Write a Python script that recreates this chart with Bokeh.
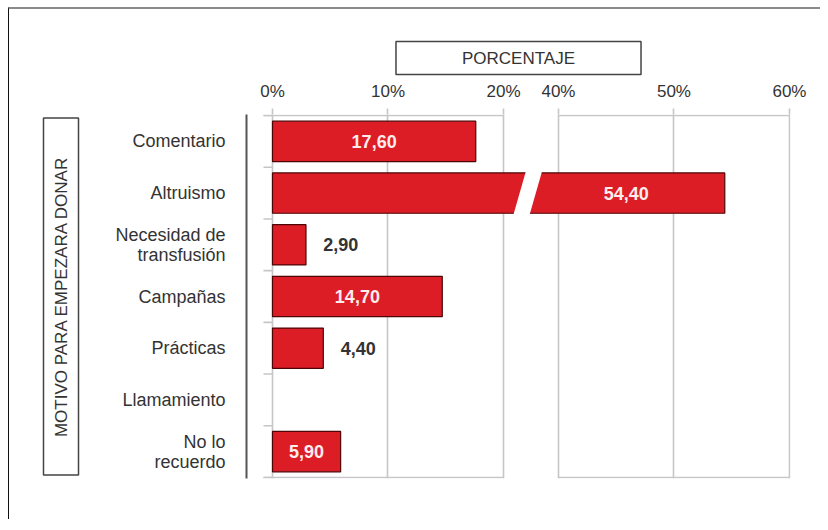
import math
from bokeh.plotting import figure
from bokeh.models import Range1d, FixedTicker, LinearAxis, Title, Grid, ColumnDataSource
from bokeh.core.properties import value
from bokeh.embed import file_html
from bokeh.resources import INLINE

# ---------------- data ----------------
categories = ["Comentario", "Altruismo", "Necesidad de\ntransfusión", "Campañas",
              "Prácticas", "Llamamiento", "No lo\nrecuerdo"]
values = [17.60, 54.40, 2.90, 14.70, 4.40, 0.0, 5.90]
value_labels = ["17,60", "54,40", "2,90", "14,70", "4,40", "", "5,90"]
tick_values = [0, 10, 20, 40, 50, 60]
tick_labels = ["0%", "10%", "20%", "40%", "50%", "60%"]
x_title = "PORCENTAJE"
y_title = "MOTIVO PARA EMPEZARA DONAR"

# ---------------- broken axis mapping ----------------
BREAK_LOW, BREAK_HIGH, GAP = 20, 40, 4.76
AXIS_MAX = 60


def disp(v):
    v = float(v)
    d = v if v <= BREAK_LOW else BREAK_LOW + GAP + (v - BREAK_HIGH)
    return round(d, 4)


FONT = "Liberation Sans"
BAR_FILL = "#dd1d26"
BAR_LINE = "#4d0505"
GRID = "#c6c6c6"

n = len(categories)
p = figure(width=812, height=512, output_backend="svg", toolbar_location=None,
           x_range=Range1d(-2.25, disp(AXIS_MAX) + 0.09),
           y_range=Range1d(n - 0.48, -0.52),
           x_axis_location=None, y_axis_location="left",
           min_border_left=237, min_border_right=31, min_border_top=105,
           min_border_bottom=43)
p.margin = (7, 0, 0, 8)
p.outline_line_color = None
p.background_fill_color = "white"
p.border_fill_color = "white"
p.styles = {"border-top": "2px solid #8a8a8a", "border-left": "1px solid #111"}
for g in p.grid:
    g.visible = False

ticks_d = [disp(t) for t in tick_values]

# vertical gridlines
grid = Grid(dimension=0, ticker=FixedTicker(ticks=ticks_d),
            grid_line_color=GRID, grid_line_width=1.6)
p.add_layout(grid)

# top axis
ax = LinearAxis(ticker=FixedTicker(ticks=ticks_d),
                major_label_overrides={d: lab for d, lab in zip(ticks_d, tick_labels)})
ax.axis_line_color = None
ax.major_tick_line_color = GRID
ax.major_tick_line_width = 1.6
ax.major_tick_out = 6
ax.major_tick_in = 0
ax.minor_tick_line_color = None
ax.major_label_text_font = FONT
ax.major_label_text_font_size = "17px"
ax.major_label_text_color = "#333333"
ax.major_label_standoff = 8
p.add_layout(ax, "above")

# left (category) axis
ya = p.yaxis[0]
ya.ticker = FixedTicker(ticks=list(range(n)))
ya.major_label_overrides = {i: c for i, c in enumerate(categories)}
ya.axis_line_color = "#555555"
ya.axis_line_width = 2
ya.major_tick_line_color = None
ya.minor_tick_line_color = None
ya.major_tick_out = 0
ya.major_label_standoff = 21
ya.major_label_text_font = FONT
ya.major_label_text_font_size = "18px"
ya.major_label_text_line_height = 1.0
ya.major_label_text_color = "#333333"

# frame lines (top / bottom) for both axis segments
TICK_LEFT = -0.78
top_y, bot_y = -0.5, n - 0.5
seg_x0 = [TICK_LEFT, disp(BREAK_HIGH), TICK_LEFT, disp(BREAK_HIGH)]
seg_x1 = [disp(BREAK_LOW), disp(AXIS_MAX), disp(BREAK_LOW), disp(AXIS_MAX)]
seg_y = [top_y, top_y, bot_y, bot_y]
p.segment(x0=seg_x0, x1=seg_x1, y0=seg_y, y1=seg_y, line_color=GRID, line_width=1.6)

# category boundary ticks
bounds = [i - 0.5 for i in range(n + 1)]
p.segment(x0=[TICK_LEFT] * len(bounds), x1=[0] * len(bounds), y0=bounds, y1=bounds,
          line_color=GRID, line_width=1.6)

# bars
idx = [i for i, v in enumerate(values) if v > 0]
src = ColumnDataSource(dict(y=idx, right=[disp(values[i]) for i in idx]))
H = 0.78
p.hbar(y="y", left=0, right="right", height=H, source=src,
       fill_color=BAR_FILL, line_color=BAR_LINE, line_width=1.2)

# break marks on bars crossing the axis break
BREAK_C = 22.1
HALF_W = 0.7
SLANT = 0.5
for i, v in enumerate(values):
    if v > BREAK_HIGH:
        ext = H / 2 + 0.06
        s = SLANT * ext / (H / 2)
        xs = [BREAK_C - s - HALF_W, BREAK_C - s + HALF_W, BREAK_C + s + HALF_W, BREAK_C + s - HALF_W]
        ys = [i + ext, i + ext, i - ext, i - ext]
        p.patch(xs, ys, fill_color="white", line_color=None)

# value labels
in_x, in_y, in_t = [], [], []
out_x, out_y, out_t = [], [], []
for i, (v, lab) in enumerate(zip(values, value_labels)):
    if v <= 0:
        continue
    d = disp(v)
    if v > BREAK_HIGH:
        in_x.append((BREAK_C + d) / 2); in_y.append(i); in_t.append(lab)
    elif d > 5:
        in_x.append(d / 2); in_y.append(i); in_t.append(lab)
    else:
        out_x.append(d + 1.5); out_y.append(i); out_t.append(lab)

p.text(x=in_x, y=in_y, text=in_t, text_font=value(FONT), text_font_style="bold",
       text_font_size="18px", text_color="#ffecec", text_align="center",
       text_baseline="middle")
p.text(x=out_x, y=out_y, text=out_t, text_font=value(FONT), text_font_style="bold",
       text_font_size="18px", text_color="#333333", text_align="left",
       text_baseline="middle")

# axis titles in boxes  (padding: left, right, top, bottom)
xt = Title(text=x_title, align="center", text_font=FONT, text_font_size="17px",
           text_font_style="normal", text_color="#333333",
           border_line_color="#444444", border_line_width=1.5,
           background_fill_color="white", padding=(66, 66, 7, 7), standoff=8)
p.add_layout(xt, "above")

yt = Title(text=y_title, align="center", vertical_align="middle", text_font=FONT,
           text_font_size="17px", text_font_style="normal", text_color="#333333",
           border_line_color="#444444", border_line_width=1.5,
           background_fill_color="white", padding=(38, 38, 8, 8), standoff=6,
           offset=5)
p.add_layout(yt, "left")

open("out.html", "w").write(file_html(p, INLINE))
